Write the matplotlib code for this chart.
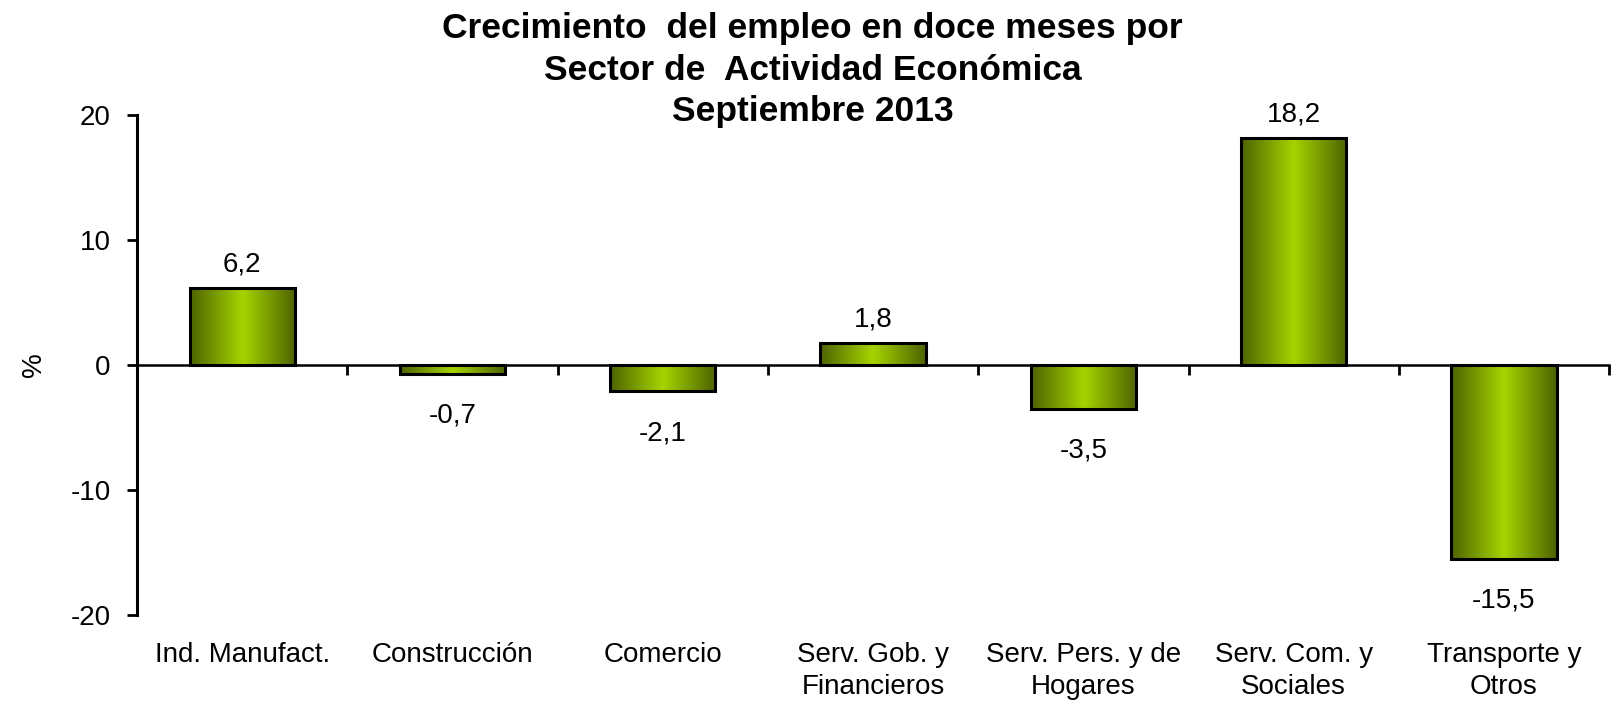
import matplotlib
matplotlib.use("Agg")
import matplotlib.pyplot as plt
import numpy as np
from matplotlib.colors import LinearSegmentedColormap

plt.rcParams['font.family'] = ['Liberation Sans', 'DejaVu Sans']

sectores = ["Ind. Manufact.", "Construcción", "Comercio", "Serv. Gob. y\nFinancieros",
            "Serv. Pers. y de\nHogares", "Serv. Com. y\nSociales", "Transporte y\nOtros"]
valores = [6.2, -0.7, -2.1, 1.8, -3.5, 18.2, -15.5]
y_ticks = [-20, -10, 0, 10, 20]

fig = plt.figure(figsize=(16.12, 7.03), dpi=100)
ax = fig.add_axes([0.085, 0.1252, 0.9132, 0.711])

x = np.arange(len(valores))
ancho = 0.5

# gradient: dark olive edges, bright yellow-green centre
cmap = LinearSegmentedColormap.from_list("verde", ["#4e6300", "#a6d400", "#4e6300"])
grad = np.linspace(0, 1, 256).reshape(1, -1)

bars = ax.bar(x, valores, width=ancho, facecolor="none", edgecolor="black", linewidth=2.2, zorder=3)
for b in bars:
    x0, y0 = b.get_x(), b.get_y()
    w, h = b.get_width(), b.get_height()
    ax.imshow(grad, cmap=cmap, aspect="auto", extent=(x0, x0 + w, y0, y0 + h),
              zorder=2, interpolation="bicubic")

for xi, v in zip(x, valores):
    txt = f"{v:.1f}".replace(".", ",")
    if v >= 0:
        ax.annotate(txt, (xi, v), xytext=(0, 7), textcoords="offset points",
                    ha="center", va="bottom", fontsize=20)
    else:
        ax.annotate(txt, (xi, v), xytext=(0, -21), textcoords="offset points",
                    ha="center", va="top", fontsize=20)

ax.set_xlim(-0.5, len(valores) - 0.5)
ax.set_ylim(-20, 20)
ax.set_yticks(y_ticks)
ax.set_yticklabels([str(t) for t in y_ticks], fontsize=20)
ax.tick_params(axis="y", direction="out", length=7, width=2, pad=12)

ax.spines['top'].set_visible(False)
ax.spines['right'].set_visible(False)
ax.spines['left'].set_linewidth(2.2)
ax.spines['bottom'].set_position(("data", 0))
ax.spines['bottom'].set_linewidth(1.8)
ax.set_xticks(np.arange(-0.5, len(valores), 1.0))
ax.set_xticklabels([])
ax.tick_params(axis="x", direction="out", length=7, width=2)

# category labels at bottom
for xi, s in zip(x, sectores):
    ax.text(xi, -0.055, s, transform=ax.get_xaxis_transform(), ha="center", va="top",
            fontsize=20, linespacing=1.3)

ax.set_ylabel("%", fontsize=20)
ax.yaxis.set_label_coords(-0.061, 0.5)

fig.text(0.504, 0.9, "Crecimiento  del empleo en doce meses por\nSector de  Actividad Económica\nSeptiembre 2013",
         ha="center", va="center", fontsize=25.5, fontweight="bold", linespacing=1.32)

fig.savefig("out.png", dpi=100)
